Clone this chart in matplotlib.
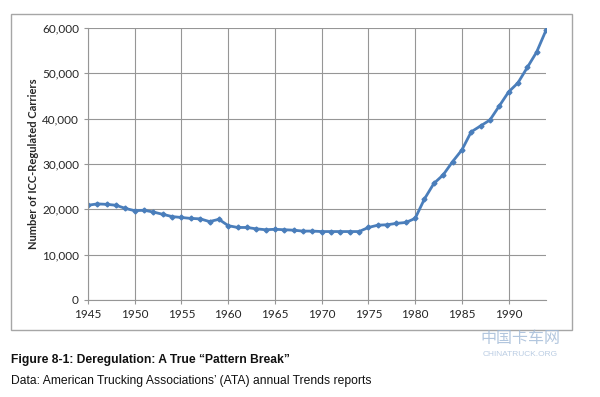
import numpy as np
import matplotlib.pyplot as plt
import matplotlib.patches as patches
from matplotlib.ticker import FuncFormatter

years = list(range(1945, 1995))
carriers = [20900, 21200, 21100, 20900, 20200, 19700, 19800, 19400, 18900, 18400,
            18200, 18000, 17900, 17300, 17800, 16400, 16000, 16000, 15700, 15500,
            15600, 15500, 15400, 15200, 15200, 15100, 15100, 15100, 15100, 15100,
            16000, 16500, 16600, 16900, 17100, 18000, 22300, 25700, 27600, 30500,
            33100, 37100, 38400, 39700, 42800, 45900, 47900, 51300, 54700, 59500]
xticks = [1945, 1950, 1955, 1960, 1965, 1970, 1975, 1980, 1985, 1990]
yticks = [0, 10000, 20000, 30000, 40000, 50000, 60000]

W, H = 600, 397
fig = plt.figure(figsize=(6, 3.97), dpi=100)

# outer chart frame
fig.patches.append(patches.Rectangle((11 / W, 1 - 330 / H), (572 - 11) / W, (330 - 14) / H,
                                     transform=fig.transFigure, fill=False,
                                     ec='#a6a6a6', lw=1.0))

ax = fig.add_axes([88 / W, 1 - 300 / H, (546 - 88) / W, (300 - 28) / H])
ax.plot(years, carriers, color='#4a7ebb', lw=2.0, marker='D', ms=2.5, mfc='#4a7ebb', mec='#4a7ebb')
ax.set_xlim(1945, 1994)
ax.set_ylim(0, 60000)
ax.set_xticks(xticks)
ax.set_yticks(yticks)
ax.yaxis.set_major_formatter(FuncFormatter(lambda v, p: '{:,.0f}'.format(v)))
ax.grid(True, color='#969696', lw=0.8)
ax.set_axisbelow(True)
for s in ['top', 'right']:
    ax.spines[s].set_visible(False)
for s in ['left', 'bottom']:
    ax.spines[s].set_color('#969696')
ax.tick_params(axis='both', colors='#969696', labelcolor='#262626', labelsize=8.5, length=3)
for lab in ax.get_xticklabels() + ax.get_yticklabels():
    lab.set_family('Lato')
ax.set_ylabel('Number of ICC-Regulated Carriers', fontsize=8, fontweight='bold',
              family='Lato', color='#262626', labelpad=2)

fig.text(11 / W, 1 - 360 / H, 'Figure 8-1: Deregulation: A True \u201cPattern Break\u201d',
         fontsize=8.7, fontweight='bold', family='Liberation Sans', va='center', color='#111111')
fig.text(11 / W, 1 - 381 / H, 'Data: American Trucking Associations\u2019 (ATA) annual Trends reports',
         fontsize=8.75, family='Liberation Sans', va='center', color='#111111')

# watermark
fig.text(520 / W, 1 - 339 / H, '中国卡车网', fontsize=11.5, family=['Noto Sans CJK SC', 'DejaVu Sans'],
         color='#9fb8d6', ha='center', va='center', alpha=0.8)
fig.text(520 / W, 1 - 354 / H, 'CHINATRUCK.ORG', fontsize=6, family='Liberation Sans',
         color='#a9c0dc', ha='center', va='center', alpha=0.8)

fig.savefig('out.png', dpi=100)
